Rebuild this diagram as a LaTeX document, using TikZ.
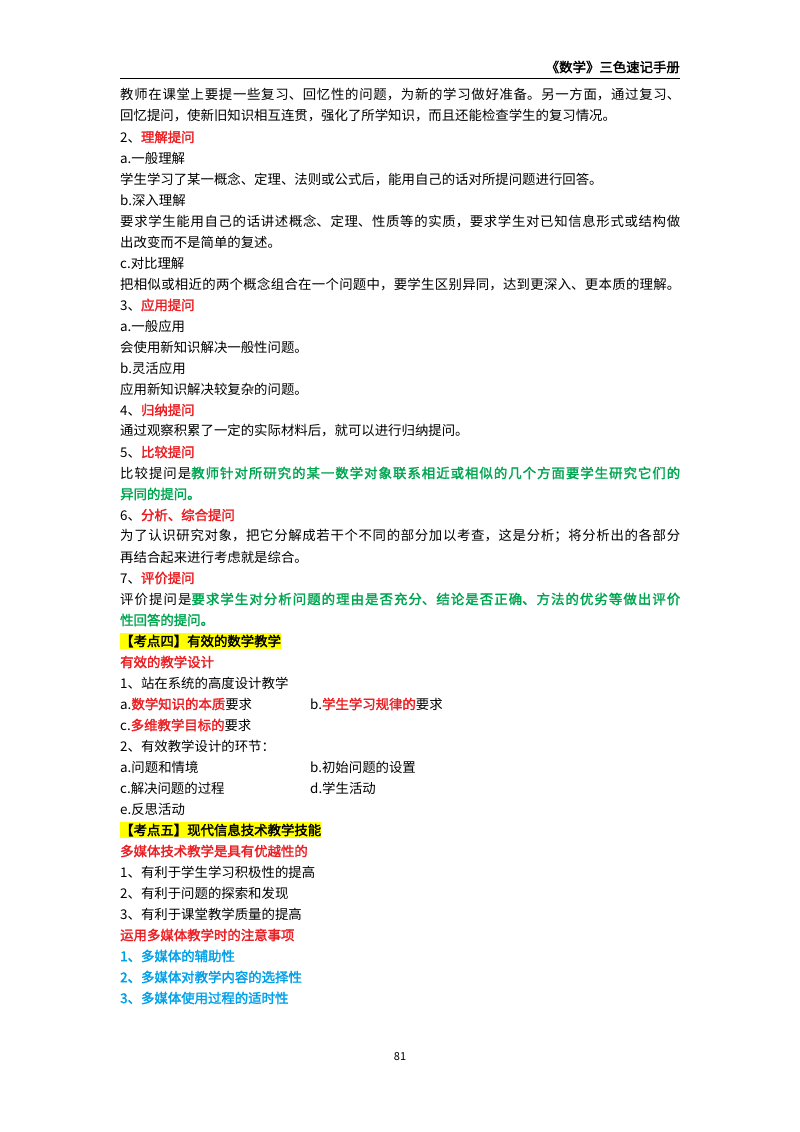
\documentclass[tikz,border=0pt]{standalone}
\usepackage{fontspec}
\setmainfont{Noto Sans CJK SC}[AutoFakeBold=2]
\XeTeXlinebreaklocale "zh"
\XeTeXlinebreakskip=0pt plus 3pt
\definecolor{rd}{RGB}{235,30,35}
\definecolor{gn}{RGB}{0,165,80}
\definecolor{bl}{RGB}{0,160,233}
\definecolor{hl}{RGB}{255,255,0}
\newcommand{\R}[1]{\textcolor{rd}{\textbf{#1}}}
\newcommand{\G}[1]{\textcolor{gn}{\textbf{#1}}}
\newcommand{\B}[1]{\textcolor{bl}{\textbf{#1}}}
\newcommand{\FL}[1]{\parfillskip=0pt #1\par}
\begin{document}
\begin{tikzpicture}[x=1pt,y=-1pt,
  ln/.style={anchor=west,inner sep=0pt,font=\fontsize{13.4}{14}\selectfont},
  fl/.style={ln,text width=560pt,align=justify},
  hb/.style={ln,fill=hl,inner ysep=2pt,font=\fontsize{13.4}{14}\selectfont\bfseries}]
\useasboundingbox (0,0) rectangle (800,1132);
\node[anchor=east,inner sep=0pt,font=\fontsize{13.4}{14}\selectfont\bfseries] (hd) at (680,67) {《数学》三色速记手册};
\draw[line width=0.8pt] (120,78) coordinate (l1) -- (680,78) coordinate (l2);
\node[fl] (t1) at (120,95) {\FL{教师在课堂上要提一些复习、回忆性的问题，为新的学习做好准备。另一方面，通过复习、}};
\node[ln] (t2) at (120,116) {回忆提问，使新旧知识相互连贯，强化了所学知识，而且还能检查学生的复习情况。};
\node[ln] (t3) at (120,137) {2、\R{理解提问}};
\node[ln] (t4) at (120,158) {a.一般理解};
\node[ln] (t5) at (120,179) {学生学习了某一概念、定理、法则或公式后，能用自己的话对所提问题进行回答。};
\node[ln] (t6) at (120,200) {b.深入理解};
\node[fl] (t7) at (120,221) {\FL{要求学生能用自己的话讲述概念、定理、性质等的实质，要求学生对已知信息形式或结构做}};
\node[ln] (t8) at (120,242) {出改变而不是简单的复述。};
\node[ln] (t9) at (120,263) {c.对比理解};
\node[fl] (t10) at (120,284) {\FL{把相似或相近的两个概念组合在一个问题中，要学生区别异同，达到更深入、更本质的理解。}};
\node[ln] (t11) at (120,305) {3、\R{应用提问}};
\node[ln] (t12) at (120,326) {a.一般应用};
\node[ln] (t13) at (120,347) {会使用新知识解决一般性问题。};
\node[ln] (t14) at (120,368) {b.灵活应用};
\node[ln] (t15) at (120,389) {应用新知识解决较复杂的问题。};
\node[ln] (t16) at (120,410) {4、\R{归纳提问}};
\node[ln] (t17) at (120,431) {通过观察积累了一定的实际材料后，就可以进行归纳提问。};
\node[ln] (t18) at (120,452) {5、\R{比较提问}};
\node[fl] (t19) at (120,473) {\FL{比较提问是\G{教师针对所研究的某一数学对象联系相近或相似的几个方面要学生研究它们的}}};
\node[ln] (t20) at (120,494) {\G{异同的提问。}};
\node[ln] (t21) at (120,515) {6、\R{分析、综合提问}};
\node[fl] (t22) at (120,536) {\FL{为了认识研究对象，把它分解成若干个不同的部分加以考查，这是分析；将分析出的各部分}};
\node[ln] (t23) at (120,557) {再结合起来进行考虑就是综合。};
\node[ln] (t24) at (120,578) {7、\R{评价提问}};
\node[fl] (t25) at (120,599) {\FL{评价提问是\G{要求学生对分析问题的理由是否充分、结论是否正确、方法的优劣等做出评价}}};
\node[ln] (t26) at (120,620) {\G{性回答的提问。}};
\node[hb] (t27) at (120,641) {【考点四】有效的数学教学};
\node[ln] (t28) at (120,662) {\R{有效的教学设计}};
\node[ln] (t29) at (120,683) {1、站在系统的高度设计教学};
\node[ln] (t30) at (120,704) {a.\R{数学知识的本质}要求};
\node[ln] (t30b) at (310,704) {b.\R{学生学习规律的}要求};
\node[ln] (t31) at (120,725) {c.\R{多维教学目标的}要求};
\node[ln] (t32) at (120,746) {2、有效教学设计的环节：};
\node[ln] (t33) at (120,767) {a.问题和情境};
\node[ln] (t33b) at (310,767) {b.初始问题的设置};
\node[ln] (t34) at (120,788) {c.解决问题的过程};
\node[ln] (t34b) at (310,788) {d.学生活动};
\node[ln] (t35) at (120,809) {e.反思活动};
\node[hb] (t36) at (120,830) {【考点五】现代信息技术教学技能};
\node[ln] (t37) at (120,851) {\R{多媒体技术教学是具有优越性的}};
\node[ln] (t38) at (120,872) {1、有利于学生学习积极性的提高};
\node[ln] (t39) at (120,893) {2、有利于问题的探索和发现};
\node[ln] (t40) at (120,914) {3、有利于课堂教学质量的提高};
\node[ln] (t41) at (120,935) {\R{运用多媒体教学时的注意事项}};
\node[ln] (t42) at (120,956) {\B{1、多媒体的辅助性}};
\node[ln] (t43) at (120,977) {\B{2、多媒体对教学内容的选择性}};
\node[ln] (t44) at (120,998) {\B{3、多媒体使用过程的适时性}};
\node[inner sep=0pt,font=\fontsize{11}{12}\selectfont] (pg) at (400,1057) {81};
\end{tikzpicture}
\end{document}
